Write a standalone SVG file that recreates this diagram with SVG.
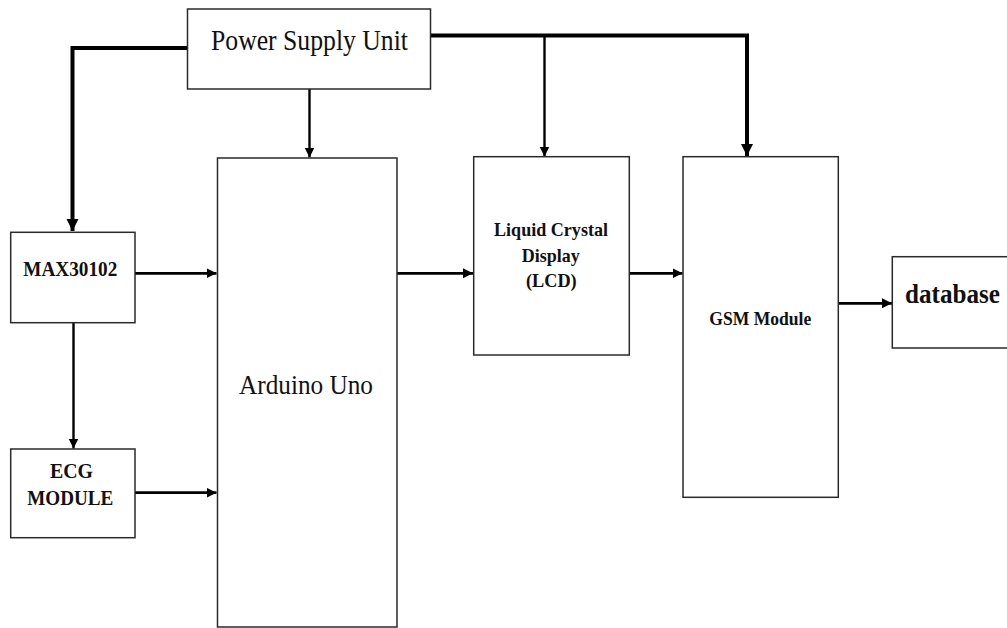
<svg xmlns="http://www.w3.org/2000/svg" width="1007" height="628" viewBox="0 0 1007 628">
<style>
.box{fill:#fff;stroke:#2a2a2a;stroke-width:1.5}
.t{font-family:"Liberation Serif","Times New Roman",serif;fill:#111}
.b{font-weight:bold}
.thin{fill:none;stroke:#000;stroke-width:2.4}
.mid{fill:none;stroke:#000;stroke-width:2.8}
.thick{fill:none;stroke:#000;stroke-width:4}
</style>
<defs>
<marker id="ah" markerUnits="userSpaceOnUse" markerWidth="11" markerHeight="11" refX="10" refY="5" orient="auto">
<path d="M0,0 L10,5 L0,10 Z" fill="#000"/>
</marker>
<marker id="ahb" markerUnits="userSpaceOnUse" markerWidth="13" markerHeight="13" refX="12" refY="6" orient="auto">
<path d="M0,0 L12,6 L0,12 Z" fill="#000"/>
</marker>
</defs>
<rect x="0" y="0" width="1007" height="628" fill="#fff"/>
<g id="connectors">
<path class="thick" d="M187,48 H72.5 V231" marker-end="url(#ahb)"/>
<path class="thick" d="M431,35.5 H747 V156" marker-end="url(#ahb)"/>
<path class="thin" d="M544.5,35.5 V156.5" marker-end="url(#ah)"/>
<path class="thin" d="M309.5,89 V157.5" marker-end="url(#ah)"/>
<path class="mid" d="M135,273.3 H216.5" marker-end="url(#ah)"/>
<path class="mid" d="M135,492.7 H216.5" marker-end="url(#ah)"/>
<path class="thin" d="M73.5,323 V448.5" marker-end="url(#ah)"/>
<path class="mid" d="M397,273.3 H473" marker-end="url(#ah)"/>
<path class="mid" d="M629.5,273.3 H682.5" marker-end="url(#ah)"/>
<path class="mid" d="M838.5,303.3 H892" marker-end="url(#ah)"/>
</g>
<g id="power">
<rect class="box" x="187.5" y="9" width="243" height="80"/>
<text class="t" x="211" y="50" font-size="30" textLength="197" lengthAdjust="spacingAndGlyphs">Power Supply Unit</text>
</g>
<g id="arduino">
<rect class="box" x="217.5" y="158" width="179.5" height="469"/>
<text class="t" x="239" y="394" font-size="28" textLength="134" lengthAdjust="spacingAndGlyphs">Arduino Uno</text>
</g>
<g id="max30102">
<rect class="box" x="10.7" y="232.3" width="124.3" height="90.4"/>
<text class="t b" x="23.3" y="276" font-size="22" textLength="94" lengthAdjust="spacingAndGlyphs">MAX30102</text>
</g>
<g id="ecg">
<rect class="box" x="10.7" y="449" width="124.3" height="88.7"/>
<text class="t b" x="50" y="478.3" font-size="22" textLength="43" lengthAdjust="spacingAndGlyphs">ECG</text>
<text class="t b" x="27.3" y="505" font-size="22" textLength="86" lengthAdjust="spacingAndGlyphs">MODULE</text>
</g>
<g id="lcd">
<rect class="box" x="473.7" y="156.7" width="155.6" height="198.3"/>
<text class="t b" x="494" y="236" font-size="19" textLength="114" lengthAdjust="spacingAndGlyphs">Liquid Crystal</text>
<text class="t b" x="521.7" y="261.7" font-size="19" textLength="58" lengthAdjust="spacingAndGlyphs">Display</text>
<text class="t b" x="526" y="286.7" font-size="19" textLength="50.7" lengthAdjust="spacingAndGlyphs">(LCD)</text>
</g>
<g id="gsm">
<rect class="box" x="683" y="156.7" width="155.3" height="340.6"/>
<text class="t b" x="709.3" y="325" font-size="18" textLength="102" lengthAdjust="spacingAndGlyphs">GSM Module</text>
</g>
<g id="database">
<rect class="box" x="892.3" y="256.7" width="120" height="91.3"/>
<text class="t b" x="905" y="302.7" font-size="28" textLength="95" lengthAdjust="spacingAndGlyphs">database</text>
</g>
</svg>
